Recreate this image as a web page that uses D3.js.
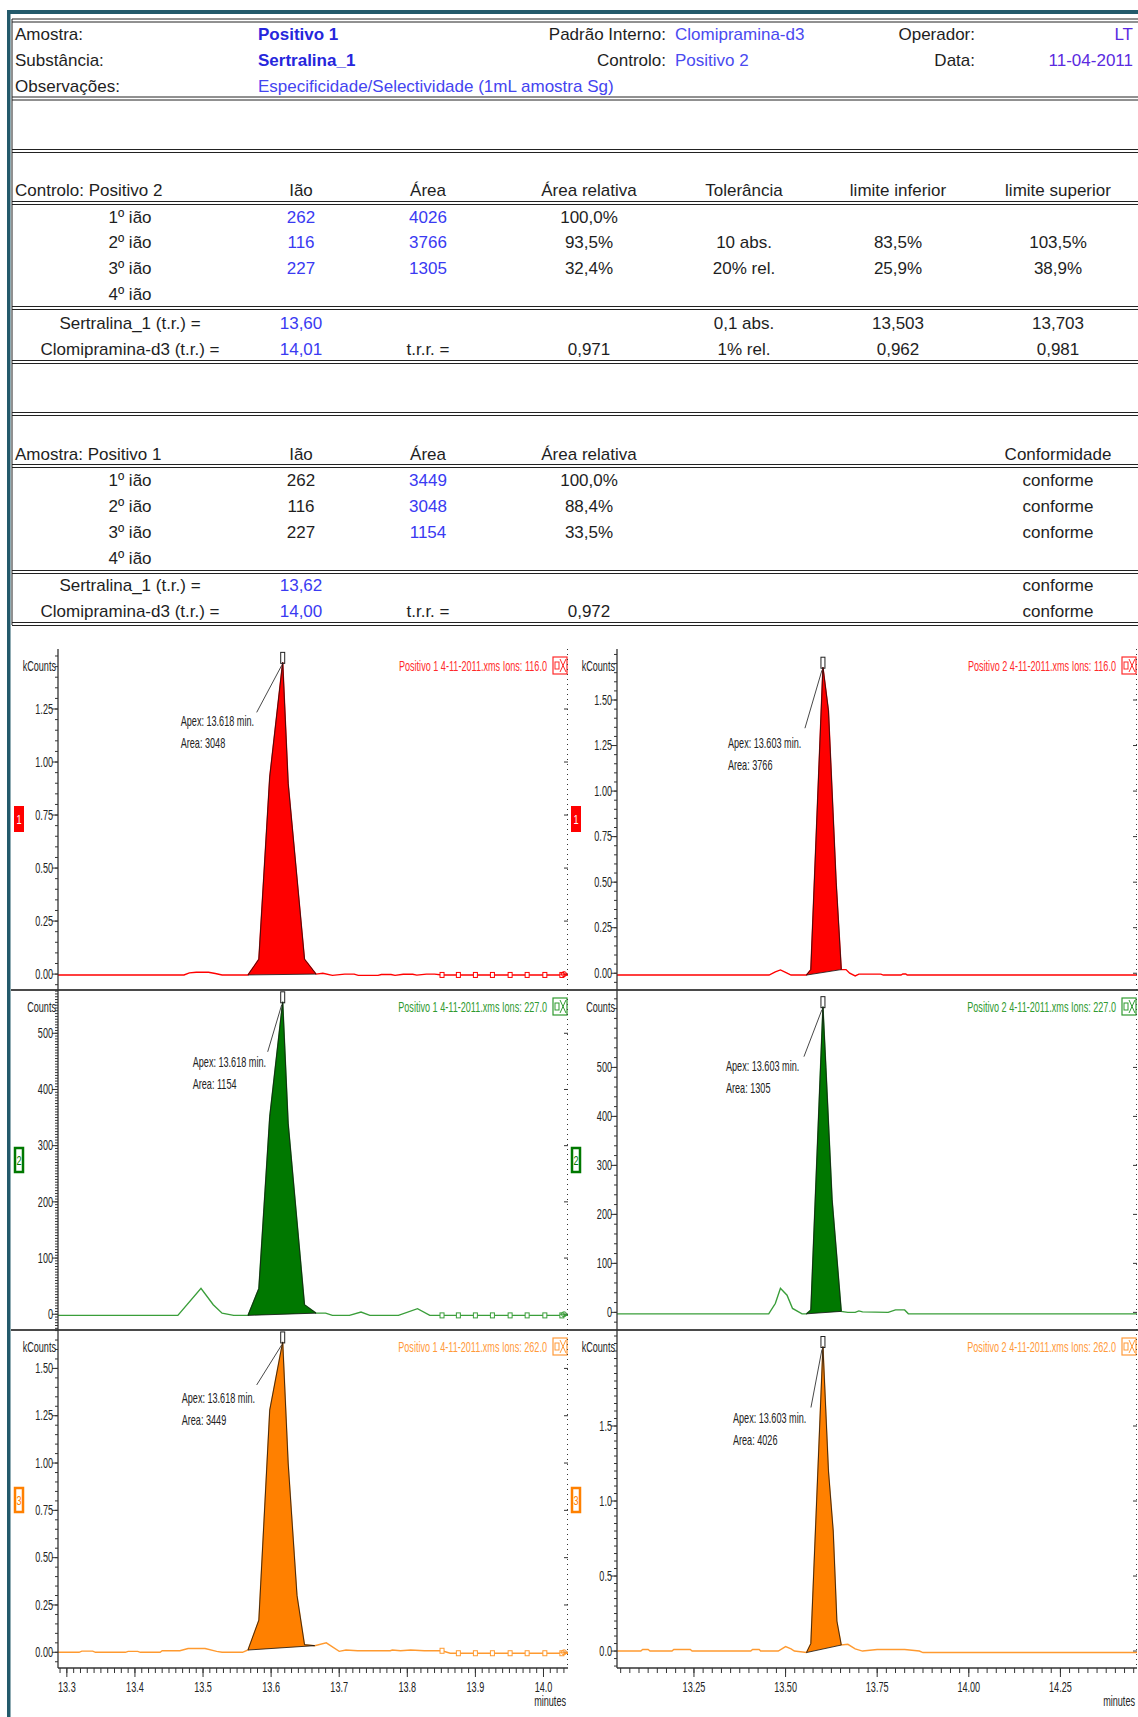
<!DOCTYPE html>
<html>
<head>
<meta charset="utf-8">
<script src="https://cdn.jsdelivr.net/npm/d3@7"></script>
<style>
  body { margin: 0; background: #fff; }
  svg { display: block; }
</style>
</head>
<body>
<svg id="report" width="1138" height="1717"></svg>
<script>
// ---------- report header ----------
const headLabels = ["Amostra:", "Substância:", "Observações:"];
const headValues = ["Positivo 1", "Sertralina_1", "Especificidade/Selectividade (1mL amostra Sg)"];
const midLabels = ["Padrão Interno:", "Controlo:"];
const midValues = ["Clomipramina-d3", "Positivo 2"];
const rightLabels = ["Operador:", "Data:"];
const rightValues = ["LT", "11-04-2011"];

// ---------- control table (Positivo 2) ----------
const ionRows = ["1º ião", "2º ião", "3º ião", "4º ião"];
const ionMasses = ["262", "116", "227", ""];
const ctrlAreas = ["4026", "3766", "1305", ""];
const ctrlRelArea = ["100,0%", "93,5%", "32,4%", ""];
const ctrlTolerance = ["", "10 abs.", "20% rel.", ""];
const ctrlLower = ["", "83,5%", "25,9%", ""];
const ctrlUpper = ["", "103,5%", "38,9%", ""];
const rtLabels = ["Sertralina_1 (t.r.) =", "Clomipramina-d3 (t.r.) ="];
const ctrlRt = ["13,60", "14,01"];
const ctrlRrt = "0,971";
const ctrlRtTol = ["0,1 abs.", "1% rel."];
const ctrlRtLower = ["13,503", "0,962"];
const ctrlRtUpper = ["13,703", "0,981"];

// ---------- sample table (Positivo 1) ----------
const sampleAreas = ["3449", "3048", "1154", ""];
const sampleRelArea = ["100,0%", "88,4%", "33,5%", ""];
const sampleConf = ["conforme", "conforme", "conforme", ""];
const sampleRt = ["13,62", "14,00"];
const sampleRrt = "0,972";
const sampleRtConf = ["conforme", "conforme"];

// ---------- chromatograms: [minutes, intensity] ----------
const p1Ion116 = [[13.287,-0.004],[13.472,-0.004],[13.48,0.006],[13.49,0.009],[13.508,0.009],[13.518,0.003],[13.528,-0.004],
  [13.566,-0.004],[13.582,0.07],[13.598,0.93],[13.617,1.47],[13.625,0.90],[13.649,0.07],[13.666,0.0],
  [13.676,0.004],[13.69,-0.006],[13.708,0.0],[13.722,0.0],[13.728,-0.006],[13.757,-0.006],[13.762,-0.002],[13.776,-0.002],
  [13.782,-0.006],[13.794,-0.001],[13.808,-0.001],[13.814,-0.005],[13.828,0.0],[13.84,0.0],[13.851,-0.004],[14.036,-0.004]];
const p1Ion227 = [[13.287,-2],[13.463,-2],[13.497,46],[13.515,17],[13.528,2],[13.545,-2],[13.566,-2],
  [13.582,46],[13.598,352],[13.617,556],[13.625,340],[13.649,17],[13.666,2],[13.68,2],[13.69,-2],[13.715,-2],
  [13.732,4],[13.745,-2],[13.787,-2],[13.815,10],[13.833,-2],[14.036,-2]];
const p1Ion262 = [[13.287,0],[13.318,0],[13.322,0.006],[13.338,0.006],[13.342,0],[13.386,0],[13.39,0.005],[13.404,0.005],
  [13.408,0],[13.437,0],[13.44,0.008],[13.466,0.008],[13.478,0.02],[13.503,0.02],[13.52,0.005],[13.528,0],[13.558,0],
  [13.566,0.012],[13.582,0.17],[13.598,1.28],[13.617,1.64],[13.625,1.0],[13.638,0.30],[13.649,0.04],[13.664,0.035],
  [13.681,0.05],[13.7,0.005],[13.71,0.012],[13.727,0.008],[13.775,0.008],[13.778,0.012],[13.79,0.008],[13.805,0.012],
  [13.825,0.008],[13.851,0.008],[13.863,-0.005],[14.036,-0.005]];
const p2Ion116 = [[13.04,-0.01],[13.455,-0.01],[13.472,0.008],[13.486,0.018],[13.5,0.005],[13.515,-0.01],[13.557,-0.01],
  [13.569,0.02],[13.602,1.68],[13.617,1.44],[13.638,0.5],[13.652,0.02],[13.665,0.02],[13.675,0.0],[13.69,-0.015],
  [13.7,-0.005],[13.76,-0.005],[13.767,-0.01],[13.815,-0.01],[13.82,-0.004],[13.828,-0.004],[13.832,-0.01],[14.459,-0.01]];
const p2Ion227 = [[13.04,-3],[13.454,-3],[13.472,18],[13.486,49],[13.504,35],[13.519,8],[13.545,-3],[13.557,-3],
  [13.569,5],[13.602,624],[13.61,500],[13.627,230],[13.652,2],[13.67,0],[13.69,0],[13.7,3],[13.71,1],[13.78,0],
  [13.8,5],[13.825,5],[13.835,-3],[14.459,-3]];
const p2Ion262 = [[13.04,0],[13.105,0],[13.11,0.01],[13.125,0.01],[13.13,0],[13.19,0],[13.195,0.01],[13.24,0.01],
  [13.245,0],[13.405,0],[13.41,0.01],[13.428,0.01],[13.432,0],[13.48,0],[13.5,0.03],[13.515,0.015],[13.524,0],
  [13.557,-0.01],[13.569,0.05],[13.602,2.03],[13.617,1.2],[13.63,0.8],[13.64,0.2],[13.652,0.04],[13.67,0.045],
  [13.69,0.015],[13.71,0],[13.75,0.01],[13.825,0.01],[13.865,0],[13.875,-0.01],[14.459,-0.01]];

const p1Marks116 = [[13.851,-0.004],[13.875,-0.004],[13.9,-0.004],[13.925,-0.004],[13.951,-0.004],[13.976,-0.004],[14.002,-0.004],[14.027,-0.004]];
const p1Marks227 = [[13.851,-2],[13.875,-2],[13.9,-2],[13.925,-2],[13.951,-2],[13.976,-2],[14.002,-2],[14.027,-2]];
const p1Marks262 = [[13.851,0.008],[13.875,-0.005],[13.9,-0.005],[13.925,-0.005],[13.951,-0.005],[13.976,-0.005],[14.002,-0.005],[14.027,-0.005]];

const ionNames = ["116.0", "227.0", "262.0"];
const p1Apex = "13.618", p2Apex = "13.603";
const p1Areas = ["3048", "1154", "3449"];
const p2Areas = ["3766", "1305", "4026"];
const p1PeakWindows = [[13.566, 13.666], [13.566, 13.666], [13.566, 13.664]];
const p2PeakWindows = [[13.557, 13.652], [13.557, 13.652], [13.557, 13.652]];
const yUnits = ["kCounts", "Counts", "kCounts"];
const p1YTicks = [[0, 0.25, 0.5, 0.75, 1, 1.25], [0, 100, 200, 300, 400, 500], [0, 0.25, 0.5, 0.75, 1, 1.25, 1.5]];
const p2YTicks = [[0, 0.25, 0.5, 0.75, 1, 1.25, 1.5], [0, 100, 200, 300, 400, 500], [0, 0.5, 1, 1.5]];
const p1XTicks = [13.3, 13.4, 13.5, 13.6, 13.7, 13.8, 13.9, 14.0];
const p2XTicks = [13.25, 13.5, 13.75, 14.0, 14.25];

// ---------- drawing ----------
const svg = d3.select("#report");
const FONT = "'Liberation Sans', Arial, sans-serif";
const INK = "#1e1e1e";
const BLUE = "#3a3af2";
const TS = 17; // table font size

function txt(g, x, y, s, o = {}) {
  return g.append("text")
    .attr("transform", `translate(${x},${y}) scale(${o.sx || 1},1)`)
    .attr("text-anchor", o.anchor || "start")
    .attr("dominant-baseline", "central")
    .attr("font-family", FONT)
    .attr("font-size", o.size || TS)
    .attr("font-weight", o.weight || "normal")
    .attr("fill", o.fill || INK)
    .text(s);
}

function dbl(y, x1 = 12, x2 = 1138) {
  [-1.5, 1.5].forEach(d => svg.append("line")
    .attr("x1", x1).attr("x2", x2).attr("y1", y + d).attr("y2", y + d)
    .attr("stroke", "#222").attr("stroke-width", 1));
}

// frame
svg.append("rect").attr("x", 7).attr("y", 10).attr("width", 1131).attr("height", 4).attr("fill", "#235a6b");
svg.append("rect").attr("x", 7).attr("y", 10).attr("width", 3.5).attr("height", 1707).attr("fill", "#235a6b");
svg.append("line").attr("x1", 12).attr("x2", 12).attr("y1", 19).attr("y2", 625).attr("stroke", "#222");

[20.5, 98.5, 151, 203, 308, 362, 414, 466, 572, 624].forEach(y => dbl(y));

// header block
const headY = [34, 60, 86.5];
headLabels.forEach((s, i) => txt(svg, 15, headY[i], s));
headValues.forEach((s, i) => txt(svg, 258, headY[i], s, { fill: i < 2 ? "#2626dc" : "#4444f0", weight: i < 2 ? "bold" : "normal" }));
midLabels.forEach((s, i) => txt(svg, 666, headY[i], s, { anchor: "end" }));
midValues.forEach((s, i) => txt(svg, 675, headY[i], s, { fill: "#4a4af0" }));
rightLabels.forEach((s, i) => txt(svg, 975, headY[i], s, { anchor: "end" }));
rightValues.forEach((s, i) => txt(svg, 1133, headY[i], s, { anchor: "end", fill: "#5a2ae0" }));

const colX = { label: 130, ion: 301, area: 428, rel: 589, tol: 744, lo: 898, hi: 1058 };

// control table
const t1Head = 190.5, t1Rows = [217, 242.5, 268, 294], t1Rt = [323.5, 349];
txt(svg, 15, t1Head, "Controlo: Positivo 2");
[["ion", "Ião"], ["area", "Área"], ["rel", "Área relativa"], ["tol", "Tolerância"], ["lo", "limite inferior"], ["hi", "limite superior"]]
  .forEach(([k, s]) => txt(svg, colX[k], t1Head, s, { anchor: "middle" }));
ionRows.forEach((s, i) => {
  const y = t1Rows[i];
  txt(svg, colX.label, y, s, { anchor: "middle" });
  txt(svg, colX.ion, y, ionMasses[i], { anchor: "middle", fill: BLUE });
  txt(svg, colX.area, y, ctrlAreas[i], { anchor: "middle", fill: BLUE });
  txt(svg, colX.rel, y, ctrlRelArea[i], { anchor: "middle" });
  txt(svg, colX.tol, y, ctrlTolerance[i], { anchor: "middle" });
  txt(svg, colX.lo, y, ctrlLower[i], { anchor: "middle" });
  txt(svg, colX.hi, y, ctrlUpper[i], { anchor: "middle" });
});
rtLabels.forEach((s, i) => {
  const y = t1Rt[i];
  txt(svg, colX.label, y, s, { anchor: "middle" });
  txt(svg, colX.ion, y, ctrlRt[i], { anchor: "middle", fill: BLUE });
  txt(svg, colX.tol, y, ctrlRtTol[i], { anchor: "middle" });
  txt(svg, colX.lo, y, ctrlRtLower[i], { anchor: "middle" });
  txt(svg, colX.hi, y, ctrlRtUpper[i], { anchor: "middle" });
});
txt(svg, colX.area, t1Rt[1], "t.r.r. =", { anchor: "middle" });
txt(svg, colX.rel, t1Rt[1], ctrlRrt, { anchor: "middle" });

// sample table
const t2Head = 454, t2Rows = [480.5, 506.5, 532, 558], t2Rt = [585.5, 611.5];
txt(svg, 15, t2Head, "Amostra: Positivo 1");
[["ion", "Ião"], ["area", "Área"], ["rel", "Área relativa"], ["hi", "Conformidade"]]
  .forEach(([k, s]) => txt(svg, colX[k], t2Head, s, { anchor: "middle" }));
ionRows.forEach((s, i) => {
  const y = t2Rows[i];
  txt(svg, colX.label, y, s, { anchor: "middle" });
  txt(svg, colX.ion, y, ionMasses[i], { anchor: "middle" });
  txt(svg, colX.area, y, sampleAreas[i], { anchor: "middle", fill: BLUE });
  txt(svg, colX.rel, y, sampleRelArea[i], { anchor: "middle" });
  txt(svg, colX.hi, y, sampleConf[i], { anchor: "middle" });
});
rtLabels.forEach((s, i) => {
  const y = t2Rt[i];
  txt(svg, colX.label, y, s, { anchor: "middle" });
  txt(svg, colX.ion, y, sampleRt[i], { anchor: "middle", fill: BLUE });
  txt(svg, colX.hi, y, sampleRtConf[i], { anchor: "middle" });
});
txt(svg, colX.area, t2Rt[1], "t.r.r. =", { anchor: "middle" });
txt(svg, colX.rel, t2Rt[1], sampleRrt, { anchor: "middle" });

// ---------- chromatogram panels ----------
const SX = 0.65, CF = 14;
const rows = [{ top: 649, bottom: 990 }, { top: 990, bottom: 1330 }, { top: 1330, bottom: 1668 }];
const colors = [
  { line: "#ff0000", fill: "#ff0000", text: "#ff2a2a", box: "filled" },
  { line: "#3a9e3a", fill: "#007800", text: "#2f9a2f", box: "outline" },
  { line: "#ff9a30", fill: "#ff8000", text: "#ff9a3a", box: "outline" }
];
const columns = [
  { sample: "Positivo 1", x: d3.scaleLinear().domain([13.287, 14.036]).range([58, 568]),
    traces: [p1Ion116, p1Ion227, p1Ion262], marks: [p1Marks116, p1Marks227, p1Marks262],
    yDomains: [[-0.075, 1.533], [-28, 577], [-0.083, 1.703]], yTicks: p1YTicks, minor: [0.05, 5, 0.05],
    fmt: [".2f", "d", ".2f"], apex: p1Apex, areas: p1Areas, windows: p1PeakWindows,
    note: [[-102, 59, -26, 50], [-90, 60, -15, 50], [-101, 56, -26, 43]],
    xTicks: p1XTicks, xMinor: 0.01, xFmt: ".1f", boxX: 14 },
  { sample: "Positivo 2", x: d3.scaleLinear().domain([13.04, 14.459]).range([617, 1137]),
    traces: [p2Ion116, p2Ion227, p2Ion262], marks: [[], [], []],
    yDomains: [[-0.092, 1.78], [-36, 658], [-0.113, 2.14]], yTicks: p2YTicks, minor: [0.05, 20, 0.05],
    fmt: [".2f", "d", ".1f"], apex: p2Apex, areas: p2Areas, windows: p2PeakWindows,
    note: [[-95, 76, -18, 61], [-97, 60, -19, 50], [-90, 72, -12, 61]],
    xTicks: p2XTicks, xMinor: 0.025, xFmt: ".2f", boxX: 571 }
];

// separators between panels
[990, 1330].forEach(y => svg.append("line").attr("x1", 11).attr("x2", 1138).attr("y1", y).attr("y2", y)
  .attr("stroke", "#4a4a4a").attr("stroke-width", 2));

columns.forEach((col, ci) => {
  const x = col.x;
  const [xa, xb] = x.range();
  const g = svg.append("g");

  rows.forEach((r, ri) => {
    const c = colors[ri];
    const y = d3.scaleLinear().domain(col.yDomains[ri]).range([r.bottom, r.top]);
    const pg = g.append("g");
    const clipId = `clip${ci}${ri}`;
    pg.append("clipPath").attr("id", clipId).append("rect")
      .attr("x", xa).attr("y", r.top).attr("width", xb - xa).attr("height", r.bottom - r.top);

    // y ticks
    const [y0, y1] = y.domain();
    const mstep = col.minor[ri];
    d3.range(Math.ceil(y0 / mstep) * mstep, y1, mstep).forEach(v => {
      pg.append("line").attr("x1", xa - 3).attr("x2", xa).attr("y1", y(v)).attr("y2", y(v))
        .attr("stroke", "#333").attr("stroke-width", 1);
    });
    const f = d3.format(col.fmt[ri]);
    col.yTicks[ri].forEach(v => {
      pg.append("line").attr("x1", xa - 6).attr("x2", xa).attr("y1", y(v)).attr("y2", y(v))
        .attr("stroke", "#333").attr("stroke-width", 1);
      pg.append("line").attr("x1", xb - 4).attr("x2", xb).attr("y1", y(v)).attr("y2", y(v))
        .attr("stroke", "#333").attr("stroke-width", 1);
      txt(pg, xa - 5, y(v), f(v), { size: CF, sx: SX, anchor: "end", fill: "#222" });
    });
    txt(pg, xa - 2, r.top + 17, yUnits[ri], { size: CF, sx: SX, anchor: "end", fill: "#222" });

    // trace
    const data = col.traces[ri];
    const line = d3.line().x(d => x(d[0])).y(d => y(d[1]));
    pg.append("path").datum(data).attr("d", line).attr("fill", "none")
      .attr("stroke", c.line).attr("stroke-width", 1.4).attr("clip-path", `url(#${clipId})`);

    // integrated peak
    const [ps, pe] = col.windows[ri];
    const peak = data.filter(d => d[0] >= ps && d[0] <= pe);
    pg.append("path").attr("d", line(peak) + "Z").attr("fill", c.fill)
      .attr("stroke", "#111").attr("stroke-width", 0.8).attr("stroke-linejoin", "round");

    // baseline markers
    col.marks[ri].forEach(d => {
      pg.append("rect").attr("x", x(d[0]) - 2).attr("y", y(d[1]) - 2.5).attr("width", 4).attr("height", 5)
        .attr("fill", "#fff").attr("stroke", c.line).attr("stroke-width", 1);
    });

    // apex marker and note
    const apex = peak.reduce((a, b) => (b[1] > a[1] ? b : a));
    const ax = x(apex[0]), ay = y(apex[1]);
    pg.append("rect").attr("x", ax - 2).attr("y", ay - 10).attr("width", 4).attr("height", 11)
      .attr("fill", "none").attr("stroke", "#222").attr("stroke-width", 1);
    const [tdx, tdy, ldx, ldy] = col.note[ri];
    pg.append("line").attr("x1", ax - 1).attr("y1", ay + 3).attr("x2", ax + ldx).attr("y2", ay + ldy)
      .attr("stroke", "#333").attr("stroke-width", 0.9);
    txt(pg, ax + tdx, ay + tdy, `Apex: ${col.apex} min.`, { size: CF, sx: SX, fill: "#222" });
    txt(pg, ax + tdx, ay + tdy + 22, `Area: ${col.areas[ri]}`, { size: CF, sx: SX, fill: "#222" });

    // title and window icon
    txt(pg, xb - 21, r.top + 17, `${col.sample} 4-11-2011.xms Ions: ${ionNames[ri]}`,
      { size: CF, sx: SX, anchor: "end", fill: c.text });
    pg.append("rect").attr("x", xb - 15).attr("y", r.top + 8).attr("width", 14).attr("height", 17)
      .attr("fill", "#fff").attr("stroke", c.text).attr("stroke-width", 1.2);
    pg.append("rect").attr("x", xb - 13).attr("y", r.top + 13).attr("width", 4).attr("height", 7)
      .attr("fill", "none").attr("stroke", c.text).attr("stroke-width", 1);
    pg.append("path").attr("d", `M${xb - 8},${r.top + 10}L${xb - 2},${r.top + 23}M${xb - 2},${r.top + 10}L${xb - 8},${r.top + 23}`)
      .attr("stroke", c.text).attr("stroke-width", 1);

    // trace number box
    const by = r.top + 157;
    if (c.box === "filled") {
      pg.append("rect").attr("x", col.boxX).attr("y", by).attr("width", 10).attr("height", 26).attr("fill", c.fill);
      txt(pg, col.boxX + 5, by + 13, String(ri + 1), { size: 13, sx: 0.7, anchor: "middle", fill: "#fff" });
    } else {
      pg.append("rect").attr("x", col.boxX + 1).attr("y", by + 1).attr("width", 8).attr("height", 24)
        .attr("fill", "#fff").attr("stroke", c.fill).attr("stroke-width", 2.5);
      txt(pg, col.boxX + 5, by + 13, String(ri + 1), { size: 13, sx: 0.7, anchor: "middle", fill: c.fill });
    }

    // zero marker on the right edge of the left windows
    if (ci === 0) {
      pg.append("circle").attr("cx", xb - 4).attr("cy", y(0)).attr("r", 2.5)
        .attr("fill", "none").attr("stroke", c.line).attr("stroke-width", 1);
      pg.append("line").attr("x1", xb - 8).attr("x2", xb).attr("y1", y(0)).attr("y2", y(0))
        .attr("stroke", c.line).attr("stroke-width", 1);
    }
  });

  // y axis line and dotted right edge
  g.append("line").attr("x1", xa).attr("x2", xa).attr("y1", rows[0].top).attr("y2", 1668)
    .attr("stroke", "#333").attr("stroke-width", 1.3);
  g.append("line").attr("x1", xb - 0.5).attr("x2", xb - 0.5).attr("y1", rows[0].top).attr("y2", 1668)
    .attr("stroke", "#333").attr("stroke-width", 1).attr("stroke-dasharray", "1,4");

  // x axis
  const ax = g.append("g");
  ax.append("line").attr("x1", xa).attr("x2", xb).attr("y1", 1668).attr("y2", 1668)
    .attr("stroke", "#333").attr("stroke-width", 1.3);
  const [d0, d1] = x.domain();
  d3.range(Math.ceil(d0 / col.xMinor - 1e-6) * col.xMinor, d1, col.xMinor).forEach(v => {
    ax.append("line").attr("x1", x(v)).attr("x2", x(v)).attr("y1", 1668).attr("y2", 1673)
      .attr("stroke", "#333").attr("stroke-width", 1);
  });
  const xf = d3.format(col.xFmt);
  col.xTicks.forEach(v => {
    ax.append("line").attr("x1", x(v)).attr("x2", x(v)).attr("y1", 1668).attr("y2", 1677)
      .attr("stroke", "#333").attr("stroke-width", 1);
    txt(ax, x(v), 1687, xf(v), { size: CF, sx: SX, anchor: "middle", fill: "#222" });
  });
  txt(ax, xb - 2, 1701, "minutes", { size: CF, sx: SX, anchor: "end", fill: "#222" });
});
</script>
</body>
</html>
